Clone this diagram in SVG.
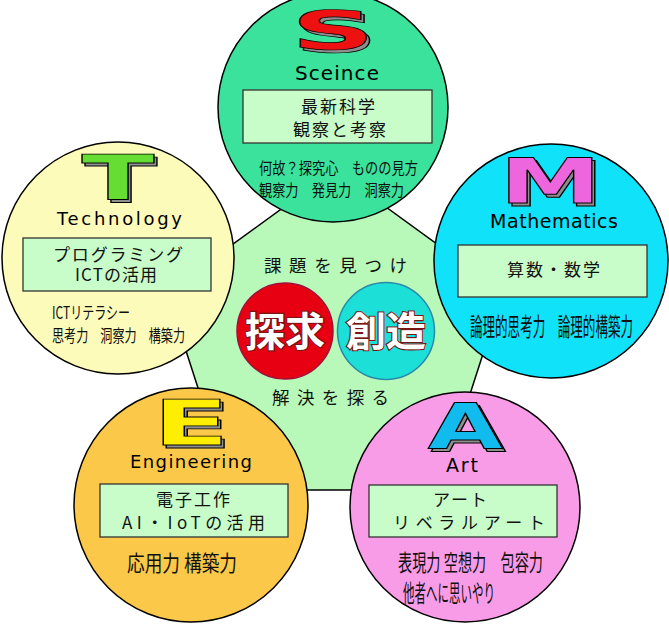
<svg xmlns="http://www.w3.org/2000/svg" width="669" height="627" viewBox="0 0 669 627">
<style>
.c{stroke:#000;stroke-width:1.5}
.box{fill:#c8fcc8;stroke:#333;stroke-width:1.3}
.lat{font-family:"DejaVu Sans",sans-serif;fill:#000}
.jp{font-family:"Noto Sans CJK JP",sans-serif;fill:#111}
.big{font-family:"DejaVu Sans",sans-serif;font-weight:bold;text-anchor:middle;stroke:#000;stroke-width:1.2;vector-effect:non-scaling-stroke}
.sh{fill:#8e8e8e}
.kan{font-family:"Noto Sans CJK JP",sans-serif;font-weight:bold;font-size:40px;fill:#fff;stroke:#7a1515;stroke-width:2.2;paint-order:stroke;text-anchor:middle}
</style>
<rect width="669" height="627" fill="#fff"/>
<g id="center">
<polygon points="335,170 503,292 439,490 231,490 167,292" fill="#b8f8b8" stroke="#000" stroke-width="1.5"/>
<text class="jp" x="264" y="272" font-size="17.5" textLength="143" lengthAdjust="spacing">課題を見つけ</text>
<text class="jp" x="272" y="404" font-size="17.5" textLength="117" lengthAdjust="spacing">解決を探る</text>
<circle cx="285" cy="331" r="48" fill="#e60012" stroke="#a0103a" stroke-width="1.5"/>
<circle cx="386" cy="331" r="48.5" fill="#1ce0d8" stroke="#2a88a8" stroke-width="1.5"/>
<text class="kan" x="285" y="346">探求</text>
<text class="kan" x="386" y="346">創造</text>
</g>
<g id="science">
<circle class="c" cx="333" cy="107" r="115" fill="#3ae29b"/>
<g transform="translate(333,49) scale(2.15,1)">
<text class="big sh" x="1.5" y="3" font-size="54">S</text>
<text class="big" x="0" y="0" font-size="54" fill="#ee1111">S</text>
</g>
<text class="lat" x="295" y="80" font-size="20" textLength="84" lengthAdjust="spacing">Sceince</text>
<rect class="box" x="243" y="90" width="189" height="53"/>
<text class="jp" x="301" y="113" font-size="17" textLength="74" lengthAdjust="spacing">最新科学</text>
<text class="jp" x="293" y="136" font-size="17" textLength="93" lengthAdjust="spacing">観察と考察</text>
<text class="jp" x="259" y="174" font-size="16" textLength="159" lengthAdjust="spacingAndGlyphs">何故？探究心　ものの見方</text>
<text class="jp" x="259" y="196" font-size="16" textLength="145" lengthAdjust="spacingAndGlyphs">観察力　発見力　洞察力</text>
</g>
<g id="technology">
<circle class="c" cx="118" cy="258" r="116" fill="#fdfbb9"/>
<g transform="translate(118,200) scale(1.7,1)">
<text class="big sh" x="1.8" y="3" font-size="63">T</text>
<text class="big" x="0" y="0" font-size="63" fill="#66dd33">T</text>
</g>
<text class="lat" x="57" y="225" font-size="18" textLength="125" lengthAdjust="spacing">Technology</text>
<rect class="box" x="23" y="238" width="188" height="53"/>
<text class="jp" x="53" y="261" font-size="17" textLength="130" lengthAdjust="spacing">プログラミング</text>
<text class="jp" x="75" y="281" font-size="17" textLength="82" lengthAdjust="spacing">ICTの活用</text>
<text class="jp" x="52" y="319" font-size="17" textLength="78" lengthAdjust="spacingAndGlyphs">ICTリテラシー</text>
<text class="jp" x="52" y="342" font-size="17" textLength="133" lengthAdjust="spacingAndGlyphs">思考力　洞察力　構築力</text>
</g>
<g id="mathematics">
<circle class="c" cx="551" cy="261" r="117" fill="#10e2fa"/>
<g transform="translate(550.5,203) scale(1.65,1)">
<text class="big sh" x="1.8" y="3" font-size="62">M</text>
<text class="big" x="0" y="0" font-size="62" fill="#ee66dd">M</text>
</g>
<text class="lat" x="490" y="228" font-size="19" textLength="128" lengthAdjust="spacing">Mathematics</text>
<rect class="box" x="458" y="245" width="189" height="52"/>
<text class="jp" x="507" y="276" font-size="17" textLength="93" lengthAdjust="spacing">算数・数学</text>
<text class="jp" x="470" y="336" font-size="25" textLength="163" lengthAdjust="spacingAndGlyphs">論理的思考力　論理的構築力</text>
</g>
<g id="engineering">
<circle class="c" cx="191" cy="505" r="117" fill="#fbc84a"/>
<g transform="translate(191,445) scale(1.8,1)">
<text class="big sh" x="1.7" y="3" font-size="62">E</text>
<text class="big" x="0" y="0" font-size="62" fill="#ffee00">E</text>
</g>
<text class="lat" x="130" y="468" font-size="18" textLength="122" lengthAdjust="spacing">Engineering</text>
<rect class="box" x="100" y="484" width="188" height="53"/>
<text class="jp" x="156" y="506" font-size="17" textLength="74" lengthAdjust="spacing">電子工作</text>
<text class="jp" x="122" y="529" font-size="17" textLength="143" lengthAdjust="spacing">AI・IoTの活用</text>
<text class="jp" x="127" y="571" font-size="22" textLength="110" lengthAdjust="spacingAndGlyphs">応用力 構築力</text>
</g>
<g id="art">
<circle class="c" cx="465" cy="507" r="115" fill="#f99ce8"/>
<g transform="translate(465.5,448) scale(1.57,1)">
<text class="big sh" x="1.9" y="3" font-size="62">A</text>
<text class="big" x="0" y="0" font-size="62" fill="#11bbee">A</text>
</g>
<text class="lat" x="446" y="472" font-size="19" textLength="32" lengthAdjust="spacing">Art</text>
<rect class="box" x="369" y="485" width="188" height="52"/>
<text class="jp" x="433" y="506" font-size="17" textLength="54" lengthAdjust="spacing">アート</text>
<text class="jp" x="393" y="529" font-size="17" textLength="152" lengthAdjust="spacing">リベラルアート</text>
<text class="jp" x="398" y="571" font-size="23" textLength="145" lengthAdjust="spacingAndGlyphs">表現力 空想力　包容力</text>
<text class="jp" x="403" y="602" font-size="24" textLength="92" lengthAdjust="spacingAndGlyphs">他者へに思いやり</text>
</g>
<g id="connectors"></g>
</svg>
